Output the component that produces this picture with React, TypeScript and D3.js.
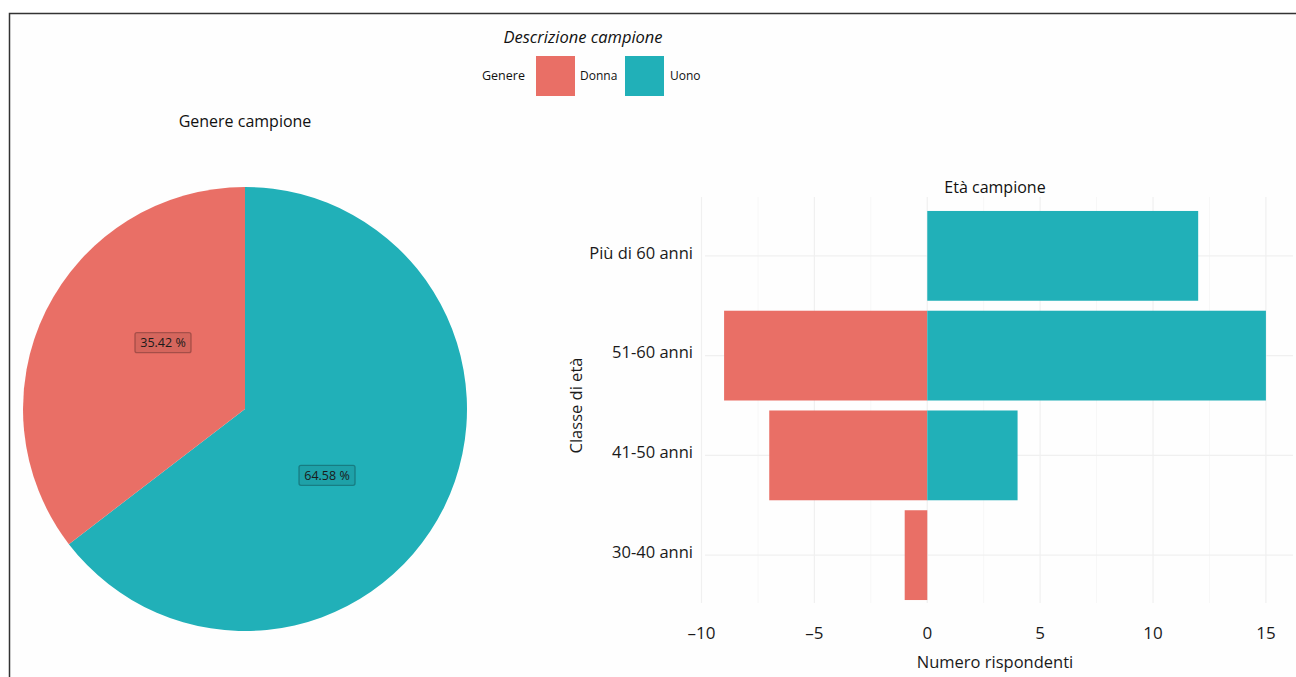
import * as d3 from 'd3';

// age classes, bottom to top as in the picture
const ageClasses = ['30-40 anni', '41-50 anni', '51-60 anni', 'Più di 60 anni'];
// respondents per class (women drawn to the left as negatives)
const donna = [1, 7, 9, 0];
const uomo = [0, 4, 15, 12];
const xTicks = [-10, -5, 0, 5, 10, 15];
const genders = ['Donna', 'Uono'];
const colors = ['#E96F66', '#21B0B8'];

const W = 1296;
const H = 677;
const FONT = "'Open Sans', Lato, sans-serif";

function PieChart() {
  const cx = 245;
  const cy = 409;
  const r = 222;
  const totDonna = d3.sum(donna);
  const totUomo = d3.sum(uomo);
  const tot = totDonna + totUomo;
  // ggplot stacks the second level first, clockwise from 12 o'clock
  const slices = [
    { name: 'Uono', value: totUomo, color: colors[1] },
    { name: 'Donna', value: totDonna, color: colors[0] },
  ];
  const arcs = d3.pie<any>().sort(null).value((d) => d.value)(slices);
  const arcGen = d3.arc<any>().innerRadius(0).outerRadius(r);
  const labelR = r * 0.475;
  const shift = (12.7 * Math.PI) / 180;
  return (
    <g>
      <text x={cx} y={127} textAnchor='middle' fontSize={16} fontFamily={FONT} fill='#111'>
        Genere campione
      </text>
      <g transform={`translate(${cx},${cy})`}>
        {arcs.map((a) => (
          <path key={a.data.name} d={arcGen(a) || ''} fill={a.data.color} />
        ))}
        {arcs.map((a) => {
          const ang = (a.startAngle + a.endAngle) / 2 + shift;
          const x = Math.sin(ang) * labelR;
          const y = -Math.cos(ang) * labelR;
          const txt = `${((a.value / tot) * 100).toFixed(2)} %`;
          return (
            <g key={'l' + a.data.name} transform={`translate(${x},${y})`}>
              <rect
                x={-28}
                y={-10}
                width={56}
                height={20}
                rx={2}
                fill={d3.color(a.data.color)!.darker(0.25).toString()}
                stroke={d3.color(a.data.color)!.darker(1.3).toString()}
                strokeWidth={1.3}
                strokeOpacity={0.75}
              />
              <text textAnchor='middle' dy='0.35em' fontSize={12.5} fontFamily={FONT} fill='#1a1a1a'>
                {txt}
              </text>
            </g>
          );
        })}
      </g>
    </g>
  );
}

function BarChart() {
  const left = 697;
  const right = 1293;
  const top = 196;
  const bottom = 615;
  const x = d3.scaleLinear().domain([-10.2, 16.2]).range([left, right]);
  const y = d3
    .scaleBand<string>()
    .domain([...ageClasses].reverse())
    .range([top, bottom])
    .paddingInner(0.1)
    .paddingOuter(0.15);
  const minor = [-7.5, -2.5, 2.5, 7.5, 12.5];
  const fmt = d3.format('d');
  return (
    <g fontFamily={FONT}>
      <text x={(left + right) / 2} y={193} textAnchor='middle' fontSize={16} fill='#111'>
        Età campione
      </text>
      {/* grid */}
      {minor.map((t) => (
        <line key={'m' + t} x1={x(t)} x2={x(t)} y1={top + 1} y2={bottom - 12} stroke='#f7f7f7' strokeWidth={1} />
      ))}
      {xTicks.map((t) => (
        <line key={'g' + t} x1={x(t)} x2={x(t)} y1={top + 1} y2={bottom - 12} stroke='#f0f0f0' strokeWidth={1.2} />
      ))}
      {ageClasses.map((c) => (
        <line
          key={'h' + c}
          x1={left + 8}
          x2={right}
          y1={y(c)! + y.bandwidth() / 2}
          y2={y(c)! + y.bandwidth() / 2}
          stroke='#f0f0f0'
          strokeWidth={1.2}
        />
      ))}
      {/* bars */}
      {ageClasses.map((c, i) => (
        <g key={'b' + c}>
          {donna[i] > 0 && (
            <rect
              x={x(-donna[i])}
              y={y(c)}
              width={x(0) - x(-donna[i])}
              height={y.bandwidth()}
              fill={colors[0]}
            />
          )}
          {uomo[i] > 0 && (
            <rect x={x(0)} y={y(c)} width={x(uomo[i]) - x(0)} height={y.bandwidth()} fill={colors[1]} />
          )}
        </g>
      ))}
      {/* y labels */}
      {ageClasses.map((c) => (
        <text
          key={'y' + c}
          x={left - 4}
          y={y(c)! + y.bandwidth() / 2 - 3}
          dy='0.35em'
          textAnchor='end'
          fontSize={16.5}
          fill='#1a1a1a'
        >
          {c}
        </text>
      ))}
      {/* x ticks */}
      {xTicks.map((t) => (
        <text key={'x' + t} x={x(t)} y={639} textAnchor='middle' fontSize={17} fill='#1a1a1a'>
          {t < 0 ? '\u2013' + fmt(-t) : fmt(t)}
        </text>
      ))}
      <text x={(left + right) / 2} y={668} textAnchor='middle' fontSize={16.5} fill='#1a1a1a'>
        Numero rispondenti
      </text>
      <text
        transform={`translate(582,${(top + bottom) / 2}) rotate(-90)`}
        textAnchor='middle'
        fontSize={16.5}
        fill='#1a1a1a'
      >
        Classe di età
      </text>
    </g>
  );
}

function Legend() {
  const keyX = [536, 625];
  const textX = [580, 670];
  return (
    <g fontFamily={FONT}>
      <text x={583} y={43} textAnchor='middle' fontSize={16.5} fontStyle='italic' fill='#111'>
        Descrizione campione
      </text>
      <text x={482} y={80} fontSize={12.5} fill='#111'>
        Genere
      </text>
      {genders.map((g, i) => (
        <g key={g}>
          <rect x={keyX[i]} y={56} width={39} height={40} fill={colors[i]} />
          <text x={textX[i]} y={80} fontSize={12} fill='#111'>
            {g}
          </text>
        </g>
      ))}
    </g>
  );
}

export default function App() {
  return (
    <svg
      width={W}
      height={H}
      style={{ position: 'absolute', left: 0, top: 0, background: '#fff' }}
    >
      <rect x={0} y={0} width={W} height={H} fill='#fff' />
      <rect x={9.5} y={13.5} width={W + 20} height={H + 20} fill='#fefefe' stroke='#333' strokeWidth={1.5} />
      <PieChart />
      <BarChart />
      <Legend />
    </svg>
  );
}
